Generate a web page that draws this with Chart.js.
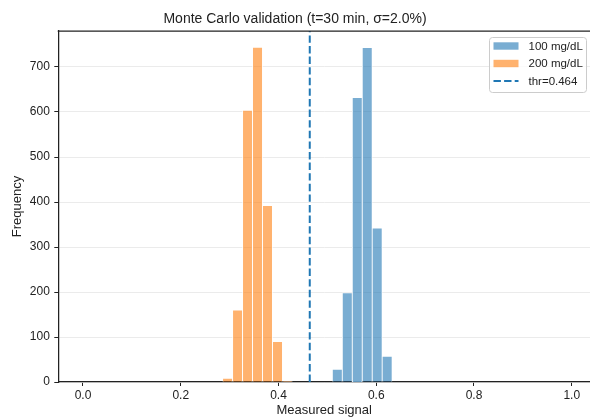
<!DOCTYPE html>
<html>
<head>
<meta charset="utf-8">
<script src="https://cdn.jsdelivr.net/npm/chart.js@4.4.1/dist/chart.umd.min.js"></script>
<style>
  html, body { margin: 0; padding: 0; background: #ffffff; overflow: hidden; }
  #wrap { width: 590px; height: 418px; }
</style>
</head>
<body>
<div id="wrap"><canvas id="c" width="590" height="418"></canvas></div>
<script>
// ---- Data ----
const titleText = "Monte Carlo validation (t=30 min, σ=2.0%)";
const xLabel = "Measured signal";
const yLabel = "Frequency";
const binWidth = 0.0204;
// left edges of histogram bins
const bins100 = [0.5102, 0.5306, 0.5510, 0.5714, 0.5918, 0.6122];
const counts100 = [28, 198, 632, 743, 342, 57];
const bins200 = [0.2857, 0.3061, 0.3265, 0.3469, 0.3673, 0.3878, 0.4082];
const counts200 = [8, 160, 604, 744, 392, 90, 2];
const threshold = 0.464;
const seriesLabels = ["100 mg/dL", "200 mg/dL", "thr=0.464"];
const xTicks = [0.0, 0.2, 0.4, 0.6, 0.8, 1.0];
const yTicks = [0, 100, 200, 300, 400, 500, 600, 700];
const xMin = -0.0505, xMax = 1.0374;
const yMin = 0, yMax = 780;

const FONT = "'Liberation Sans', Arial, 'DejaVu Sans', sans-serif";
const blueFill = 'rgba(31,119,180,0.6)';
const orangeFill = 'rgba(255,127,14,0.6)';
const lineBlue = '#1f77b4';
const ink = '#222222';

const toPts = (edges, counts) => edges.map((e, i) => ({ x: e + binWidth / 2, y: counts[i] }));

const spinesAndLegend = {
  id: 'spinesAndLegend',
  afterDraw(chart) {
    const ctx = chart.ctx;
    const a = chart.chartArea;
    ctx.save();
    // top spine
    ctx.strokeStyle = ink;
    ctx.lineWidth = 1.25;
    ctx.beginPath();
    ctx.moveTo(a.left - 0.6, a.top);
    ctx.lineTo(590, a.top);
    ctx.stroke();

    // legend
    const ds = chart.data.datasets;
    const bx = 489.5, by = 37.5, bw = 97, bh = 55, r = 3;
    ctx.beginPath();
    ctx.moveTo(bx + r, by);
    ctx.lineTo(bx + bw - r, by);
    ctx.arcTo(bx + bw, by, bx + bw, by + r, r);
    ctx.lineTo(bx + bw, by + bh - r);
    ctx.arcTo(bx + bw, by + bh, bx + bw - r, by + bh, r);
    ctx.lineTo(bx + r, by + bh);
    ctx.arcTo(bx, by + bh, bx, by + bh - r, r);
    ctx.lineTo(bx, by + r);
    ctx.arcTo(bx, by, bx + r, by, r);
    ctx.closePath();
    ctx.fillStyle = 'rgba(255,255,255,0.8)';
    ctx.fill();
    ctx.strokeStyle = '#cccccc';
    ctx.lineWidth = 1;
    ctx.stroke();

    const rows = [46, 63.5, 81];
    const hx = 493.5, hw = 25, tx = 528.5;
    ctx.font = '11.5px ' + FONT;
    ctx.textBaseline = 'middle';
    ctx.textAlign = 'left';
    ds.forEach((d, i) => {
      const cy = rows[i];
      if (d.type === 'line') {
        ctx.strokeStyle = d.borderColor;
        ctx.lineWidth = 2;
        ctx.setLineDash([7.4, 3.2]);
        ctx.beginPath();
        ctx.moveTo(hx, cy);
        ctx.lineTo(hx + hw, cy);
        ctx.stroke();
        ctx.setLineDash([]);
      } else {
        ctx.fillStyle = d.backgroundColor;
        ctx.fillRect(hx, cy - 3.7, hw, 7.4);
      }
      ctx.fillStyle = ink;
      ctx.fillText(d.label, tx, cy + 0.5);
    });
    ctx.restore();
  }
};

new Chart(document.getElementById('c'), {
  type: 'bar',
  data: {
    datasets: [
      {
        label: seriesLabels[0],
        data: toPts(bins100, counts100),
        backgroundColor: blueFill,
        borderColor: '#ffffff',
        borderWidth: 0.8,
        borderSkipped: 'bottom',
        barPercentage: 1.0,
        categoryPercentage: 1.0,
        grouped: false,
        order: 2
      },
      {
        label: seriesLabels[1],
        data: toPts(bins200, counts200),
        backgroundColor: orangeFill,
        borderColor: '#ffffff',
        borderWidth: 0.8,
        borderSkipped: 'bottom',
        barPercentage: 1.0,
        categoryPercentage: 1.0,
        grouped: false,
        order: 2
      },
      {
        type: 'line',
        label: seriesLabels[2],
        data: [{ x: threshold, y: yMin }, { x: threshold, y: yMax }],
        borderColor: lineBlue,
        borderWidth: 2,
        borderDash: [7.4, 3.2],
        pointRadius: 0,
        fill: false,
        order: 1
      }
    ]
  },
  options: {
    responsive: false,
    devicePixelRatio: 1,
    animation: false,
    events: [],
    layout: { padding: { left: 0, right: 0, top: 0, bottom: 0 } },
    plugins: {
      legend: { display: false },
      tooltip: { enabled: false },
      title: {
        display: true,
        text: titleText,
        color: ink,
        font: { family: FONT, size: 14, weight: 'normal', lineHeight: 1.2 },
        padding: { top: 10.6, bottom: 3.6 }
      }
    },
    scales: {
      x: {
        type: 'linear',
        position: 'bottom',
        min: xMin,
        max: xMax,
        offset: false,
        afterBuildTicks(s) { s.ticks = xTicks.map(v => ({ value: v })); },
        afterFit(s) { s.height = 36; },
        ticks: {
          callback: v => Number(v).toFixed(1),
          color: ink,
          font: { family: FONT, size: 12 },
          padding: 2,
          maxRotation: 0,
          autoSkip: false
        },
        grid: { display: true, offset: false, drawOnChartArea: false, drawTicks: true, tickLength: 4, tickColor: ink, tickWidth: 1 },
        border: { display: true, color: ink, width: 1.25 },
        title: {
          display: true,
          text: xLabel,
          color: ink,
          font: { family: FONT, size: 13, lineHeight: 1.2 },
          padding: { top: 0, bottom: 0 }
        }
      },
      y: {
        type: 'linear',
        position: 'left',
        min: yMin,
        max: yMax,
        afterBuildTicks(s) { s.ticks = yTicks.map(v => ({ value: v })); },
        afterFit(s) { s.width = 58.3; },
        ticks: {
          color: ink,
          font: { family: FONT, size: 12 },
          padding: 4.5,
          autoSkip: false
        },
        grid: { display: true, offset: false, color: '#e6e6e6', lineWidth: 0.8, drawTicks: true, tickLength: 4, tickColor: ink, tickWidth: 1 },
        border: { display: true, color: ink, width: 1.25 },
        title: {
          display: true,
          text: yLabel,
          color: ink,
          font: { family: FONT, size: 13, lineHeight: 1.2 },
          padding: { top: 10, bottom: 0 }
        }
      }
    }
  },
  plugins: [spinesAndLegend]
});
</script>
</body>
</html>
